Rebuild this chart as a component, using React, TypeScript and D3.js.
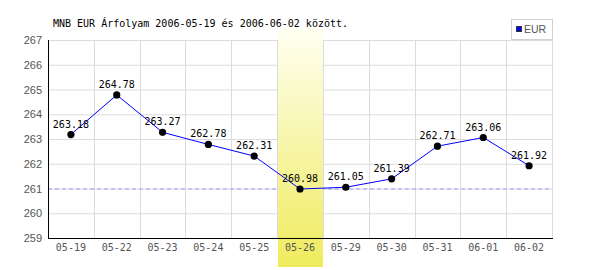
import React from "react";
import * as d3 from "d3";

const categories = ["05-19", "05-22", "05-23", "05-24", "05-25", "05-26", "05-29", "05-30", "05-31", "06-01", "06-02"];
const values = [263.18, 264.78, 263.27, 262.78, 262.31, 260.98, 261.05, 261.39, 262.71, 263.06, 261.92];
const yTicks = [259, 260, 261, 262, 263, 264, 265, 266, 267];
const highlightCategory = "05-26";
const referenceValue = 261;
const seriesName = "EUR";
const title = "MNB EUR Árfolyam 2006-05-19 és 2006-06-02 között.";

export default function App() {
  const W = 600, H = 270;
  const left = 48, right = 552, top = 40, bottom = 238;
  const x = d3.scaleBand<string>().domain(categories).range([left, right]).paddingInner(0).paddingOuter(0);
  const y = d3.scaleLinear().domain([259, 267]).range([bottom, top]);
  const bw = x.bandwidth();
  const cx = (c: string) => (x(c) as number) + bw / 2;
  const line = d3.line<number>().x((_, i) => cx(categories[i])).y((v) => y(v));
  const hx = x(highlightCategory) as number;
  const mono = "'DejaVu Sans Mono', monospace";
  const sans = "'Liberation Sans', Arial, sans-serif";
  return (
    <svg width={W} height={H} style={{ position: "absolute", left: 0, top: 0 }}>
      <defs>
        <linearGradient id="hl" x1="0" y1="0" x2="0" y2="1">
          <stop offset="0" stopColor="#fffff2" />
          <stop offset="1" stopColor="#efeb5c" />
        </linearGradient>
      </defs>
      <rect x={0} y={0} width={W} height={H} fill="#fff" />
      {yTicks.map((t) => (
        <line key={"h" + t} x1={left} x2={right} y1={y(t) + 0.5} y2={y(t) + 0.5} stroke="#dcdcdc" strokeWidth={1} />
      ))}
      {categories.slice(1).map((c) => (
        <line key={"v" + c} x1={Math.round(x(c) as number) + 0.5} x2={Math.round(x(c) as number) + 0.5} y1={top} y2={bottom} stroke="#dcdcdc" />
      ))}
      <line x1={right + 0.5} x2={right + 0.5} y1={top} y2={bottom} stroke="#dcdcdc" />
      <line x1={left} x2={right} y1={y(referenceValue) + 0.5} y2={y(referenceValue) + 0.5} stroke="#9a9aff" strokeDasharray="4,3" />
      <rect x={Math.round(hx) + 1} y={28} width={Math.round(bw) - 1} height={H - 28 - 3} fill="url(#hl)" />
      <line x1={left + 0.5} x2={left + 0.5} y1={top} y2={bottom + 1} stroke="#000" />
      <line x1={left} x2={right + 1} y1={bottom + 0.5} y2={bottom + 0.5} stroke="#000" />
      {yTicks.map((t) => (
        <text key={"yl" + t} x={42} y={y(t) + 4} textAnchor="end" fontFamily={sans} fontSize={11} fill="#555">{t}</text>
      ))}
      {categories.map((c) => (
        <text key={"xl" + c} x={cx(c)} y={251} textAnchor="middle" fontFamily={mono} fontSize={10} fill="#555">{c}</text>
      ))}
      <path d={line(values) || ""} fill="none" stroke="#0000ff" strokeWidth={1} />
      {values.map((v, i) => (
        <circle key={"p" + i} cx={cx(categories[i])} cy={y(v)} r={3.6} fill="#000" />
      ))}
      {values.map((v, i) => (
        <text key={"dl" + i} x={cx(categories[i])} y={y(v) - 7} textAnchor="middle" fontFamily={mono} fontSize={10} fill="#000">{v.toFixed(2)}</text>
      ))}
      <text x={53} y={27} fontFamily={mono} fontSize={10} fill="#000">{title}</text>
      <rect x={511.5} y={19.5} width={41} height={20} fill="#fff" stroke="#d0d0d0" />
      <rect x={516.5} y={26.5} width={5} height={5} fill="#0000ff" stroke="#333" />
      <text x={524} y={33} fontFamily={sans} fontSize={10.5} fill="#555">{seriesName}</text>
    </svg>
  );
}
